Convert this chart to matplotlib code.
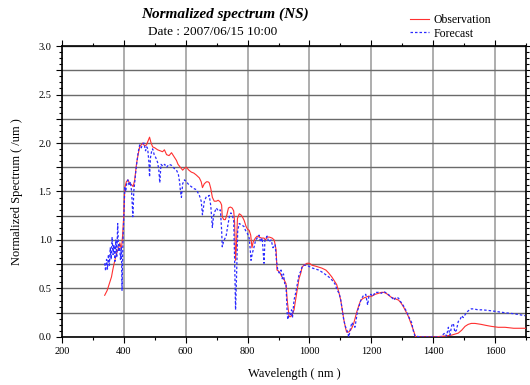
import numpy as np
import matplotlib
matplotlib.use("Agg")
import matplotlib.pyplot as plt
from matplotlib.ticker import MultipleLocator, FuncFormatter

# ---------------- data ----------------
obs_nm = [338, 346, 354, 360, 364, 370, 377, 383, 387, 392, 396, 400, 403, 408, 413, 419, 425, 430, 435, 441,
          446, 451, 456, 461, 467, 473, 478, 483, 488, 493, 500, 509, 517, 525, 531, 538, 546, 554, 562, 570,
          575, 580, 585, 590, 596, 602, 610, 618, 626, 634, 644, 650, 654, 660, 667, 672, 676, 681, 686, 692,
          699, 705, 712, 716, 718, 723, 728, 733, 738, 744, 750, 755, 758, 761, 764, 767, 773, 778, 783, 789,
          795, 800, 805, 810, 814, 818, 825, 831, 837, 845, 853, 858, 863, 870, 879, 886, 892, 895, 900, 905,
          911, 918, 924, 928, 934, 940, 945, 950, 955, 960, 966, 972, 976, 982, 992, 1000, 1008, 1020, 1030, 1040,
          1053, 1062, 1072, 1080, 1088, 1095, 1101, 1106, 1111, 1116, 1120, 1126, 1133, 1138, 1143, 1148, 1153, 1160, 1166, 1174,
          1182, 1190, 1201, 1212, 1223, 1232, 1240, 1248, 1256, 1264, 1272, 1280, 1288, 1296, 1304, 1312, 1320, 1328, 1336, 1343,
          1360, 1400, 1439, 1460, 1481, 1492, 1503, 1513, 1523, 1535, 1555, 1570, 1587, 1610, 1632, 1660, 1700]
obs_val = [0.43, 0.48, 0.56, 0.62, 0.69, 0.78, 0.87, 0.92, 0.97, 0.90, 1.05, 1.28, 1.54, 1.60, 1.62, 1.58, 1.57, 1.55, 1.62, 1.79,
           1.88, 1.96, 1.98, 2.00, 1.97, 1.98, 2.02, 2.06, 2.00, 1.96, 1.95, 1.93, 1.92, 1.91, 1.93, 1.88, 1.87, 1.90, 1.86, 1.82,
           1.78, 1.76, 1.74, 1.72, 1.74, 1.75, 1.72, 1.70, 1.69, 1.67, 1.64, 1.60, 1.54, 1.58, 1.60, 1.60, 1.59, 1.53, 1.44, 1.40,
           1.40, 1.41, 1.39, 1.36, 1.24, 1.21, 1.21, 1.26, 1.33, 1.34, 1.33, 1.30, 1.18, 0.79, 0.95, 1.22, 1.27, 1.26, 1.24, 1.20,
           1.14, 1.11, 1.10, 1.05, 0.92, 0.98, 1.02, 1.04, 1.03, 1.02, 1.02, 1.00, 1.03, 1.03, 1.02, 1.00, 0.90, 0.69, 0.68, 0.66,
           0.62, 0.59, 0.55, 0.38, 0.21, 0.21, 0.24, 0.28, 0.38, 0.48, 0.60, 0.66, 0.72, 0.74, 0.76, 0.76, 0.74, 0.73, 0.72, 0.71,
           0.69, 0.66, 0.62, 0.58, 0.54, 0.46, 0.38, 0.28, 0.18, 0.10, 0.05, 0.05, 0.07, 0.10, 0.14, 0.20, 0.26, 0.33, 0.38, 0.40,
           0.41, 0.42, 0.42, 0.44, 0.45, 0.46, 0.46, 0.45, 0.43, 0.41, 0.40, 0.39, 0.38, 0.35, 0.31, 0.26, 0.21, 0.14, 0.07, 0.00,
           0.00, 0.00, 0.01, 0.02, 0.04, 0.07, 0.11, 0.13, 0.14, 0.14, 0.13, 0.12, 0.11, 0.10, 0.10, 0.09, 0.09]

fc_nm = [338, 341, 344, 347, 350, 353, 356, 359, 362, 365, 368, 371, 374, 377, 380, 383, 386, 389, 392, 394,
         397, 400, 403, 406, 409, 413, 417, 421, 425, 429, 432, 435, 440, 446, 451, 456, 461, 465, 470, 474,
         477, 481, 483, 486, 490, 493, 498, 503, 509, 513, 516, 520, 526, 532, 538, 546, 554, 562, 570, 576,
         580, 583, 586, 590, 596, 602, 610, 618, 626, 634, 644, 650, 654, 660, 667, 672, 676, 681, 686, 690,
         695, 699, 705, 712, 716, 718, 722, 727, 731, 736, 741, 746, 750, 755, 758, 761, 764, 768, 773, 778,
         783, 788, 793, 799, 805, 808, 811, 815, 821, 826, 831, 837, 842, 847, 853, 856, 863, 868, 876, 882,
         889, 893, 897, 902, 908, 912, 916, 920, 924, 928, 930, 934, 938, 942, 945, 950, 955, 961, 966, 972,
         976, 981, 990, 997, 1010, 1020, 1030, 1045, 1062, 1072, 1082, 1090, 1096, 1101, 1106, 1111, 1117, 1122, 1127, 1132,
         1137, 1142, 1147, 1152, 1156, 1159, 1164, 1169, 1175, 1182, 1185, 1188, 1192, 1198, 1205, 1212, 1223, 1232, 1240, 1250,
         1262, 1268, 1272, 1280, 1288, 1293, 1298, 1306, 1314, 1322, 1330, 1336, 1341, 1360, 1400, 1427, 1433, 1438, 1443, 1449,
         1454, 1460, 1465, 1470, 1475, 1481, 1487, 1492, 1497, 1503, 1510, 1517, 1523, 1530, 1545, 1560, 1588, 1610, 1632, 1660,
         1697]
fc_val = [0.76, 0.68, 0.80, 0.70, 0.85, 0.74, 0.92, 0.80, 1.03, 0.85, 0.95, 0.78, 1.00, 0.82, 1.17, 0.88, 0.95, 0.80, 0.92, 0.48,
          1.00, 1.25, 1.55, 1.50, 1.58, 1.62, 1.56, 1.60, 1.50, 1.24, 1.50, 1.59, 1.75, 1.90, 1.98, 1.95, 1.99, 2.00, 1.92, 1.96,
          1.94, 1.80, 1.65, 1.85, 1.92, 1.94, 1.88, 1.85, 1.80, 1.72, 1.59, 1.78, 1.76, 1.78, 1.75, 1.78, 1.77, 1.74, 1.72, 1.68,
          1.60, 1.50, 1.44, 1.58, 1.62, 1.60, 1.57, 1.55, 1.53, 1.52, 1.46, 1.40, 1.26, 1.40, 1.45, 1.45, 1.46, 1.35, 1.13, 1.25,
          1.30, 1.33, 1.30, 1.31, 1.10, 0.93, 0.98, 1.02, 1.05, 1.15, 1.24, 1.28, 1.26, 1.20, 0.80, 0.28, 0.60, 1.10, 1.17, 1.16,
          1.15, 1.14, 1.10, 1.07, 1.02, 0.92, 0.79, 0.86, 0.93, 1.00, 1.02, 1.05, 0.98, 1.02, 0.76, 1.00, 1.04, 0.98, 1.00, 0.92,
          0.95, 0.80, 0.70, 0.66, 0.69, 0.60, 0.65, 0.55, 0.55, 0.24, 0.18, 0.25, 0.22, 0.28, 0.20, 0.38, 0.45, 0.55, 0.64, 0.68,
          0.72, 0.74, 0.74, 0.73, 0.71, 0.70, 0.69, 0.66, 0.62, 0.59, 0.55, 0.48, 0.45, 0.38, 0.28, 0.17, 0.10, 0.06, 0.00, 0.08,
          0.15, 0.12, 0.10, 0.20, 0.28, 0.30, 0.36, 0.40, 0.43, 0.44, 0.38, 0.33, 0.42, 0.44, 0.42, 0.46, 0.46, 0.45, 0.47, 0.45,
          0.42, 0.40, 0.38, 0.41, 0.40, 0.37, 0.35, 0.31, 0.26, 0.20, 0.15, 0.06, 0.01, 0.00, 0.00, 0.00, 0.03, 0.04, 0.01, 0.10,
          0.02, 0.12, 0.14, 0.05, 0.07, 0.16, 0.18, 0.22, 0.20, 0.23, 0.26, 0.28, 0.29, 0.29, 0.28, 0.28, 0.27, 0.26, 0.25, 0.24,
          0.22]

title = "Normalized spectrum (NS)"
subtitle = "Date : 2007/06/15 10:00"
series_labels = ["Observation", "Forecast"]

# ---------------- figure ----------------
plt.rcParams['font.family'] = ['Liberation Serif', 'DejaVu Serif']
fig = plt.figure(figsize=(5.30, 3.85), dpi=100)
ax = fig.add_axes([0.117, 0.1247, 0.8755, 0.7558])

l1, = ax.plot(obs_nm, obs_val, color='#ff3030', lw=0.8, zorder=3, label=series_labels[0])
l2, = ax.plot(fc_nm, fc_val, color='#2a2aff', lw=0.9, ls=(0, (2.0, 1.6)), zorder=4, label=series_labels[1])

ax.set_xlim(200, 1700)
ax.set_ylim(0, 3.0)
ax.xaxis.set_major_locator(MultipleLocator(200))
ax.xaxis.set_minor_locator(MultipleLocator(100))
ax.yaxis.set_major_locator(MultipleLocator(0.25))
ax.yaxis.set_minor_locator(MultipleLocator(0.0625))
ax.yaxis.set_major_formatter(FuncFormatter(lambda v, p: f"{v:.1f}" if abs((v / 0.5) - round(v / 0.5)) < 1e-6 else ""))

ax.grid(axis='x', which='major', color='#a0a0a0', lw=1.2, zorder=1)
ax.grid(axis='y', which='major', color='#6a6a6a', lw=1.0, zorder=1)

ax.tick_params(which='both', direction='out', top=True, right=True, labelsize=7.5, colors='black', width=0.8)
ax.tick_params(which='major', length=4)
ax.tick_params(which='minor', length=2.5)
for s in ax.spines.values():
    s.set_linewidth(1.2)
    s.set_color('black')

ax.set_xlabel("Wavelength ( nm )", fontsize=9, labelpad=8)
ax.set_ylabel("Normalized Spectrum ( /um )", fontsize=9, labelpad=11)

fig.text(0.425, 0.964, title, ha='center', va='center', fontsize=11, fontweight='bold', fontstyle='italic')
fig.text(0.279, 0.917, subtitle, ha='left', va='center', fontsize=9.5)

fig.legend(handles=[l1, l2], loc='upper left', bbox_to_anchor=(0.765, 0.975), frameon=False,
           fontsize=8.5, handlelength=1.6, handletextpad=0.4, labelspacing=0.1, borderaxespad=0)

fig.savefig("out.png", dpi=100)
